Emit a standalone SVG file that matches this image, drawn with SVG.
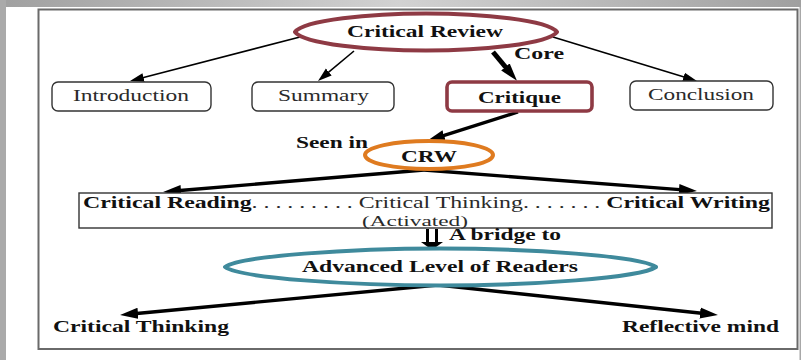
<svg xmlns="http://www.w3.org/2000/svg" width="801" height="360" viewBox="0 0 801 360">
<defs>
<linearGradient id="bg" x1="0" y1="0" x2="1" y2="0"><stop offset="0" stop-color="#a0a0a0"/><stop offset="0.5" stop-color="#d2d2d2"/><stop offset="1" stop-color="#a0a0a0"/></linearGradient>
<marker id="a1" markerUnits="userSpaceOnUse" markerWidth="15" markerHeight="10" refX="4" refY="5" orient="auto"><path d="M0 0.500L14 5L0 9.500Z" fill="#000"/></marker>
<marker id="a2" markerUnits="userSpaceOnUse" markerWidth="19" markerHeight="13" refX="4" refY="6" orient="auto"><path d="M0 0.500L18 6L0 11.500Z" fill="#000"/></marker>
</defs>
<style>
text{font-family:"Liberation Serif","Times New Roman",serif;fill:#2a2a2a;font-size:16px}
.b{font-weight:bold;fill:#111}
.box{fill:#fff;stroke:#333;stroke-width:1.400}
.lens{fill:#fff;stroke-width:4;stroke-linejoin:round}
.thin{stroke:#000;stroke-width:1.600;fill:none;marker-end:url(#a1)}
.thick{stroke:#000;stroke-width:3.400;fill:none;marker-end:url(#a2)}
</style>
<rect width="801" height="360" fill="#fff"/>
<rect width="801" height="7" fill="url(#bg)"/>
<rect width="6" height="360" fill="#aaa"/>
<rect x="38.500" y="9.500" width="759" height="339.500" fill="#fff" stroke="#6a6a6a" stroke-width="2"/>
<rect x="799.500" y="7" width="1.500" height="353" fill="#a8a8a8"/>
<g id="connectors">
<path class="thin" d="M300 37L139.700 78.500"/>
<path class="thin" d="M354 51L325.700 74.600"/>
<path class="thick" style="stroke-width:5" d="M493 52L508 70"/>
<path class="thin" d="M553 37L687.400 78.100"/>
<path class="thick" d="M518 112L440.300 136.700"/>
<path class="thick" d="M424 170L177 190.800"/>
<path class="thick" d="M424 170L683 189.900"/>
<path class="thick" d="M438 285L134 313.700"/>
<path class="thick" d="M438 285L704 313.500"/>
<path d="M427.500 229V243M436.500 229V243" stroke="#000" stroke-width="3" fill="none"/>
<path d="M421 242H443L432 250Z" fill="#000"/>
</g>
<g id="critical-review"><path class="lens" stroke="#8e3a44" d="M295 32C304 20 370 13.500 426 13.500C482 13.500 548 20 557 32C548 44 482 50.500 426 50.500C370 50.500 304 44 295 32Z"/><text class="b" x="347" y="37" textLength="156" lengthAdjust="spacingAndGlyphs">Critical Review</text></g>
<g id="introduction"><rect class="box" x="52" y="82" width="159" height="29" rx="6"/><text x="73" y="101" textLength="116" lengthAdjust="spacingAndGlyphs">Introduction</text></g>
<g id="summary"><rect class="box" x="252" y="82" width="142" height="29" rx="6"/><text x="278" y="101" textLength="91" lengthAdjust="spacingAndGlyphs">Summary</text></g>
<g id="critique"><rect x="447" y="82" width="145" height="29" rx="5" fill="#fff" stroke="#8e3a44" stroke-width="3.600"/><text class="b" x="478" y="103" textLength="83" lengthAdjust="spacingAndGlyphs">Critique</text></g>
<g id="conclusion"><rect class="box" x="630" y="81" width="143" height="29" rx="6"/><text x="648" y="100" textLength="106" lengthAdjust="spacingAndGlyphs">Conclusion</text></g>
<g id="crw"><ellipse cx="429" cy="155" rx="64" ry="14" fill="#fff" stroke="#df7b20" stroke-width="4"/><text class="b" x="401" y="162" textLength="56" lengthAdjust="spacingAndGlyphs">CRW</text></g>
<g id="activated"><rect x="79" y="193" width="693" height="35" fill="#fff" stroke="#333" stroke-width="1.400"/>
<text x="83" y="208" textLength="687" lengthAdjust="spacingAndGlyphs"><tspan class="b">Critical Reading</tspan>. . . . . . . . . Critical Thinking. . . . . . . <tspan class="b">Critical Writing</tspan></text>
<text x="362" y="225.500" style="font-size:15px" textLength="106" lengthAdjust="spacingAndGlyphs">(Activated)</text></g>
<g id="advanced"><path class="lens" stroke="#3f8a9c" d="M225 267C240 256 350 248.500 440 248.500C530 248.500 640 256 656 267C640 278 530 285.500 440 285.500C350 285.500 240 278 225 267Z"/><text class="b" x="302" y="272" textLength="276" lengthAdjust="spacingAndGlyphs">Advanced Level of Readers</text></g>
<text class="b" x="296" y="148" textLength="72" lengthAdjust="spacingAndGlyphs">Seen in</text>
<text class="b" x="514" y="59" textLength="50" lengthAdjust="spacingAndGlyphs">Core</text>
<text class="b" x="449" y="240" textLength="112" lengthAdjust="spacingAndGlyphs">A bridge to</text>
<text class="b" x="53" y="332" textLength="176" lengthAdjust="spacingAndGlyphs">Critical Thinking</text>
<text class="b" x="622" y="332" textLength="157" lengthAdjust="spacingAndGlyphs">Reflective mind</text>
</svg>
